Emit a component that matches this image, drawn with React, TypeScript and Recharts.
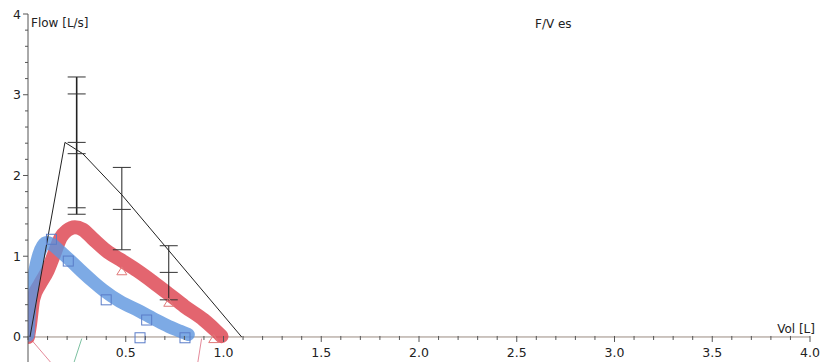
import { ComposedChart, Line, Scatter, XAxis, YAxis, ReferenceLine } from 'recharts';

// expiratory trace A (red)
const redVol = [0, 0.01, 0.027, 0.06, 0.1, 0.133, 0.167, 0.2, 0.24, 0.28, 0.33, 0.4, 0.47, 0.56, 0.64, 0.726, 0.8, 0.9, 0.96, 0.99];
const redFlow = [0, 0.15, 0.47, 0.65, 0.82, 1.02, 1.23, 1.32, 1.36, 1.33, 1.22, 1.07, 0.96, 0.82, 0.68, 0.52, 0.38, 0.21, 0.08, 0.01];

// expiratory trace B (blue)
const blueVol = [0, 0.005, 0.01, 0.02, 0.035, 0.055, 0.075, 0.095, 0.12, 0.16, 0.215, 0.28, 0.34, 0.385, 0.47, 0.57, 0.64, 0.72, 0.78, 0.82];
const blueFlow = [0.02, 0.2, 0.4, 0.6, 0.82, 1.02, 1.13, 1.17, 1.15, 1.07, 0.95, 0.8, 0.67, 0.58, 0.44, 0.32, 0.23, 0.13, 0.07, 0.03];

// predicted curve
const predVol = [0.01, 0.189, 0.28, 0.48, 1.093];
const predFlow = [0, 2.41, 2.27, 1.76, 0];

// markers
const squareVol = [0.12, 0.206, 0.4, 0.607, 0.573, 0.803];
const squareFlow = [1.21, 0.94, 0.46, 0.21, -0.01, -0.01];
const triVol = [0.48, 0.72, 0.95];
const triFlow = [0.82, 0.43, -0.02];

// range bars (cap values)
const bar1Vol = 0.249;
const bar1Caps = [3.22, 3.01, 2.41, 2.27, 1.6, 1.52];
const bar2Vol = 0.48;
const bar2Caps = [2.1, 1.58, 1.08];
const bar3Vol = 0.72;
const bar3Caps = [1.13, 0.8, 0.46];

// inspiratory starts (below zero)
const pinkAVol = [0.005, 0.125];
const pinkAFlow = [0, -0.34];
const pinkBVol = [0.888, 0.867];
const pinkBFlow = [-0.02, -0.34];
const greenVol = [0.275, 0.232];
const greenFlow = [-0.02, -0.34];

const xLabels = [0.5, 1.0, 1.5, 2.0, 2.5, 3.0, 3.5, 4.0];
const yLabels = [0, 1, 2, 3, 4];
const xTicks = Array.from({ length: 41 }, (_, i) => Math.round(i * 10) / 100);
const yTicks = Array.from({ length: 21 }, (_, i) => Math.round(i * 20) / 100);

const zip = (v: number[], f: number[]) => v.map((x, i) => ({ v: x, f: f[i] }));
const capData = (v: number, caps: number[]) => caps.map((c) => ({ v, f: c }));

const FONT = '"DejaVu Sans", Verdana, sans-serif';
const Y_MIN = -0.31;
const Y_MAX = 4;
const PLOT_H = 363 - 14 - 1;
const Y0_SHIFT = ((0 - Y_MIN) / (Y_MAX - Y_MIN)) * PLOT_H; // px between plot bottom and flow = 0

const XTick = (props: any) => {
  const { x, y, payload } = props;
  const val = payload.value;
  const y0 = y - Y0_SHIFT;
  const major = xLabels.some((m) => Math.abs(m - val) < 1e-6);
  return (
    <g>
      <line x1={x} x2={x} y1={y0 - 1} y2={y0 + (major ? 5 : 3)} stroke="#555" strokeWidth={1} />
      {major && (
        <text x={x} y={y0 + 20} textAnchor="middle" fontSize={12.5} fontFamily={FONT} fill="#222">
          {val.toFixed(1)}
        </text>
      )}
    </g>
  );
};

const YTick = (props: any) => {
  const { x, y, payload } = props;
  const val = payload.value;
  const major = yLabels.some((m) => Math.abs(m - val) < 1e-6);
  return (
    <g>
      <line x1={x - (major ? 5 : 3)} x2={x} y1={y} y2={y} stroke="#555" strokeWidth={1} />
      {major && (
        <text x={x - 7} y={y} dy="0.36em" textAnchor="end" fontSize={12.5} fontFamily={FONT} fill="#222">
          {val}
        </text>
      )}
    </g>
  );
};

const Cap = (props: any) => {
  const { cx, cy } = props;
  return <line x1={cx - 9} x2={cx + 9} y1={cy} y2={cy} stroke="#333" strokeWidth={1} />;
};

const Square = (props: any) => {
  const { cx, cy } = props;
  return <rect x={cx - 5} y={cy - 5} width={10} height={10} fill="none" stroke="#5a7cc8" strokeWidth={1} />;
};

const Triangle = (props: any) => {
  const { cx, cy } = props;
  return (
    <polygon
      points={`${cx},${cy - 4} ${cx - 5},${cy + 4} ${cx + 5},${cy + 4}`}
      fill="none"
      stroke="#e07a7a"
      strokeWidth={1}
    />
  );
};

export default function App() {
  return (
    <div style={{ position: 'absolute', left: 0, top: 0, width: 827, height: 363, background: '#fff' }}>
      <ComposedChart width={827} height={363} margin={{ top: 14, right: 17, bottom: 0, left: 0 }} style={{ overflow: 'visible' }}>
        <XAxis
          type="number"
          dataKey="v"
          domain={[0, 4]}
          allowDataOverflow
          ticks={xTicks}
          interval={0}
          height={1}
          tickSize={0}
          tickMargin={0}
          axisLine={false}
          tickLine={false}
          tick={<XTick />}
        />
        <YAxis
          type="number"
          dataKey="f"
          domain={[Y_MIN, Y_MAX]}
          allowDataOverflow
          ticks={yTicks}
          interval={0}
          width={28}
          tickSize={0}
          tickMargin={0}
          axisLine={{ stroke: '#555' }}
          tickLine={false}
          tick={<YTick />}
        />
        <ReferenceLine y={0} stroke="#9a8a80" strokeWidth={1} />

        <Line data={zip(pinkAVol, pinkAFlow)} dataKey="f" stroke="#e48a9a" strokeWidth={1} dot={false} isAnimationActive={false} />
        <Line data={zip(pinkBVol, pinkBFlow)} dataKey="f" stroke="#e48a9a" strokeWidth={1} dot={false} isAnimationActive={false} />
        <Line data={zip(greenVol, greenFlow)} dataKey="f" stroke="#7cc0a0" strokeWidth={1} dot={false} isAnimationActive={false} />

        <Line
          data={zip(redVol, redFlow)}
          dataKey="f"
          type="monotone"
          stroke="#de4a56"
          strokeOpacity={0.85}
          strokeWidth={14}
          strokeLinecap="round"
          strokeLinejoin="round"
          dot={false}
          isAnimationActive={false}
        />
        <Line
          data={zip(blueVol, blueFlow)}
          dataKey="f"
          type="monotone"
          stroke="#5c95de"
          strokeOpacity={0.8}
          strokeWidth={13}
          strokeLinecap="round"
          strokeLinejoin="round"
          dot={false}
          isAnimationActive={false}
        />

        <Line data={zip(predVol, predFlow)} dataKey="f" stroke="#222" strokeWidth={1} dot={false} isAnimationActive={false} />

        <Scatter data={capData(bar1Vol, bar1Caps)} dataKey="f" line={{ stroke: '#222', strokeWidth: 1.6 }} shape={<Cap />} isAnimationActive={false} />
        <Scatter data={capData(bar2Vol, bar2Caps)} dataKey="f" line={{ stroke: '#222', strokeWidth: 1 }} shape={<Cap />} isAnimationActive={false} />
        <Scatter data={capData(bar3Vol, bar3Caps)} dataKey="f" line={{ stroke: '#222', strokeWidth: 1 }} shape={<Cap />} isAnimationActive={false} />

        <Scatter data={zip(squareVol, squareFlow)} dataKey="f" shape={<Square />} isAnimationActive={false} />
        <Scatter data={zip(triVol, triFlow)} dataKey="f" shape={<Triangle />} isAnimationActive={false} />

        <text x={31} y={27} fontSize={12} fontFamily={FONT} fill="#222">Flow [L/s]</text>
        <text x={535} y={28} fontSize={12} fontFamily={FONT} fill="#222">F/V es</text>
        <text x={815} y={333} textAnchor="end" fontSize={12} fontFamily={FONT} fill="#222">Vol [L]</text>
      </ComposedChart>
    </div>
  );
}
